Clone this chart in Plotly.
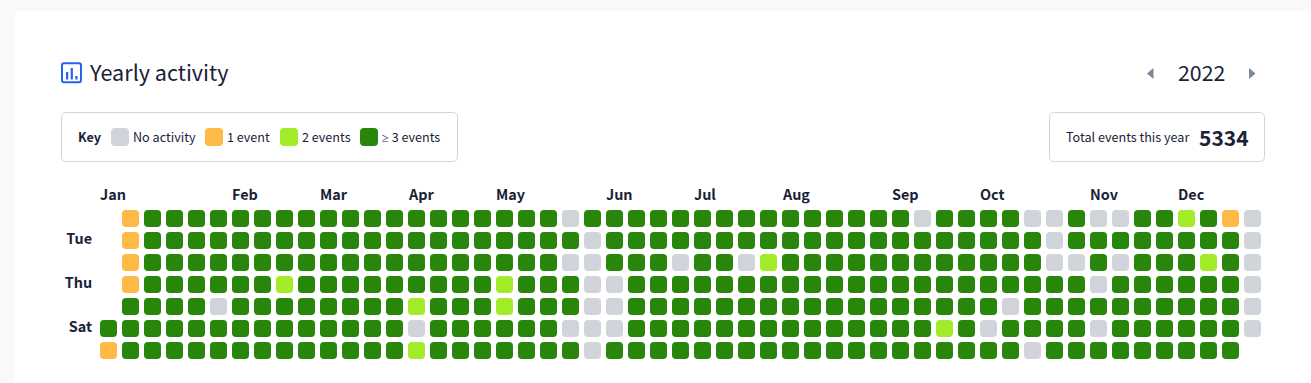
import plotly.graph_objects as go

# --- data -----------------------------------------------------------------
months = ["Jan", "Feb", "Mar", "Apr", "May", "Jun", "Jul", "Aug", "Sep", "Oct", "Nov", "Dec"]
month_weeks = [0, 6, 10, 14, 18, 23, 27, 31, 36, 40, 45, 49]
weekday_labels = ["Tue", "Thu", "Sat"]
weekday_rows = [1, 3, 5]
n_weeks = 53
n_days = 7
year = "2022"
total_events = "5334"

# (day row, week column) for every day that is not in the top bucket
no_activity = [
    (0, 21), (0, 37), (0, 42), (0, 43), (0, 45), (0, 46), (0, 52),
    (1, 22), (1, 43), (1, 52),
    (2, 21), (2, 22), (2, 26), (2, 29), (2, 43), (2, 44), (2, 46), (2, 52),
    (3, 22), (3, 23), (3, 45), (3, 52),
    (4, 5), (4, 22), (4, 23), (4, 41), (4, 52),
    (5, 14), (5, 21), (5, 22), (5, 23), (5, 40), (5, 45), (5, 52),
    (6, 22), (6, 42),
]
one_event = [(0, 1), (1, 1), (2, 1), (3, 1), (6, 0), (0, 51)]
two_events = [(3, 8), (4, 14), (6, 14), (3, 18), (4, 18), (2, 30), (5, 38), (0, 49), (2, 50)]
outside_year = [(0, 0), (1, 0), (2, 0), (3, 0), (4, 0), (6, 52)]

key_labels = ["No activity", "1 event", "2 events", "≥ 3 events"]

# --- styles ---------------------------------------------------------------
GREY, ORANGE, LIME, GREEN = "#D1D5DB", "#FFB946", "#A3EC29", "#28860B"
INK = "#1A2238"
FONT = "Noto Sans CJK SC, Noto Sans, sans-serif"
W, H = 1311, 383
CELL = 17 / 22

others = set(no_activity) | set(one_event) | set(two_events) | set(outside_year)
three_plus = [(r, c) for c in range(n_weeks) for r in range(n_days) if (r, c) not in others]

fig = go.Figure()

# The pixel frame (x / y) comes first so its shapes sit under the grid subplot.
fig.add_scatter(x=[0], y=[0], mode="markers", marker=dict(opacity=0),
                showlegend=False, hoverinfo="skip")


def add_level(cells, color, name):
    fig.add_bar(
        x=[c for _, c in cells],
        y=[CELL] * len(cells),
        base=[r - CELL / 2 for r, _ in cells],
        width=CELL,
        name=name,
        xaxis="x2", yaxis="y2",
        marker=dict(color=color, cornerradius=4, line_width=0),
        showlegend=False,
        hovertemplate="week %{x}<extra>" + name + "</extra>",
    )


add_level(no_activity, GREY, key_labels[0])
add_level(one_event, ORANGE, key_labels[1])
add_level(two_events, LIME, key_labels[2])
add_level(three_plus, GREEN, key_labels[3])


def rrect(x0, y0, x1, y1, r):
    return (
        f"M{x0 + r},{y0} L{x1 - r},{y0} Q{x1},{y0} {x1},{y0 + r} L{x1},{y1 - r} Q{x1},{y1} {x1 - r},{y1} "
        f"L{x0 + r},{y1} Q{x0},{y1} {x0},{y1 - r} L{x0},{y0 + r} Q{x0},{y0} {x0 + r},{y0} Z"
    )


shapes = []


def shape_px(path, fill="rgba(0,0,0,0)", line=None, width=1):
    shapes.append(dict(
        type="path", path=path, xref="x", yref="y", layer="below",
        fillcolor=fill, line=dict(color=line or "rgba(0,0,0,0)", width=width if line else 0),
    ))


# page card
shape_px(f"M0,0 L{W},0 L{W},{H} L0,{H} Z", fill="#F8F9FB")
shape_px(f"M15,11 L{W},11 L{W},{H} L15,{H} Z", fill="#FFFFFF")
# key and total boxes
shape_px(rrect(61.5, 112.5, 457.5, 161.5, 5), fill="#FFFFFF", line="#D1D5DB")
shape_px(rrect(1049.5, 112.5, 1264.5, 161.5, 5), fill="#FFFFFF", line="#D1D5DB")
# key swatches
for x0, col in zip([111, 205, 280, 360], [GREY, ORANGE, LIME, GREEN]):
    shape_px(rrect(x0, 128, x0 + 18, 146, 4), fill=col)
# title icon
shape_px(rrect(62, 63.3, 81, 82.3, 2), line="#2563EB", width=2)
for x0, y0 in [(66, 72), (70.7, 68), (75.3, 76)]:
    shape_px(f"M{x0},{y0} L{x0 + 2.2},{y0} L{x0 + 2.2},79.5 L{x0},79.5 Z", fill="#2563EB")
# year arrows
shape_px("M1153.5,68 L1153.5,79 L1147,73.5 Z", fill="#7C8799")
shape_px("M1249,68 L1249,79 L1255.5,73.5 Z", fill="#7C8799")


def text_px(x, y, s, size, anchor="left", color=INK, bold=False):
    return dict(
        x=x, y=y, xref="x", yref="y", text=f"<b>{s}</b>" if bold else s, showarrow=False,
        xanchor=anchor, yanchor="middle", align=anchor,
        font=dict(family=FONT, size=size, color=color), borderpad=0, borderwidth=0,
    )


annotations = [
    text_px(88.5, 71, "Yearly activity", 21.6),
    text_px(1201.5, 71.5, year, 21.3, anchor="center"),
    text_px(78, 136.5, "Key", 12.6, bold=True),
    text_px(133, 136.5, key_labels[0], 12.6),
    text_px(227, 136.5, key_labels[1], 12.6),
    text_px(302, 136.5, key_labels[2], 12.6),
    text_px(381.5, 136.5, key_labels[3].replace("≥", '<span style="font-family:Noto Sans">≥</span>'), 12.6),
    text_px(1066, 136.5, "Total events this year", 12.6),
    text_px(1199, 137, total_events, 21, bold=True),
]
for m, wk in zip(months, month_weeks):
    annotations.append(dict(
        x=wk - CELL / 2, y=-0.5, xref="x2", yref="y2", yshift=14.5, xshift=-1, text=f"<b>{m}</b>", showarrow=False,
        xanchor="left", yanchor="middle", borderpad=0,
        font=dict(family=FONT, size=14.4, color=INK),
    ))

fig.update_layout(
    width=W, height=H, autosize=False,
    margin=dict(l=0, r=0, t=0, b=0),
    paper_bgcolor="#FFFFFF", plot_bgcolor="rgba(0,0,0,0)",
    barmode="overlay", bargap=0,
    shapes=shapes, annotations=annotations,
    xaxis=dict(domain=[0, 1], range=[0, W], visible=False, fixedrange=True),
    yaxis=dict(domain=[0, 1], range=[H, 0], visible=False, fixedrange=True),
    xaxis2=dict(
        domain=[97 / W, 1264 / W], range=[(97 - 108.5) / 22, (1264 - 108.5) / 22], anchor="y2",
        showgrid=False, zeroline=False, showline=False, showticklabels=False, ticks="",
    ),
    yaxis2=dict(
        domain=[1 - 362 / H, 1 - 207 / H], range=[(362 - 218.5) / 22, (207 - 218.5) / 22], anchor="x2",
        showgrid=False, zeroline=False, showline=False,
        tickmode="array", tickvals=weekday_rows, ticktext=[f"<b>{t}</b>" for t in weekday_labels],
        ticks="outside", ticklen=1, tickcolor="rgba(0,0,0,0)", ticklabelshift=2,
        tickfont=dict(family=FONT, size=14.4, color=INK),
    ),
)

page_fix = (
    "document.body.style.margin='0';document.body.style.overflow='hidden';"
    "document.querySelectorAll('.bars path').forEach(function(p){p.style.shapeRendering='geometricPrecision';});"
)
fig.write_html("out.html", config=dict(displayModeBar=False, responsive=False), post_script=page_fix)
